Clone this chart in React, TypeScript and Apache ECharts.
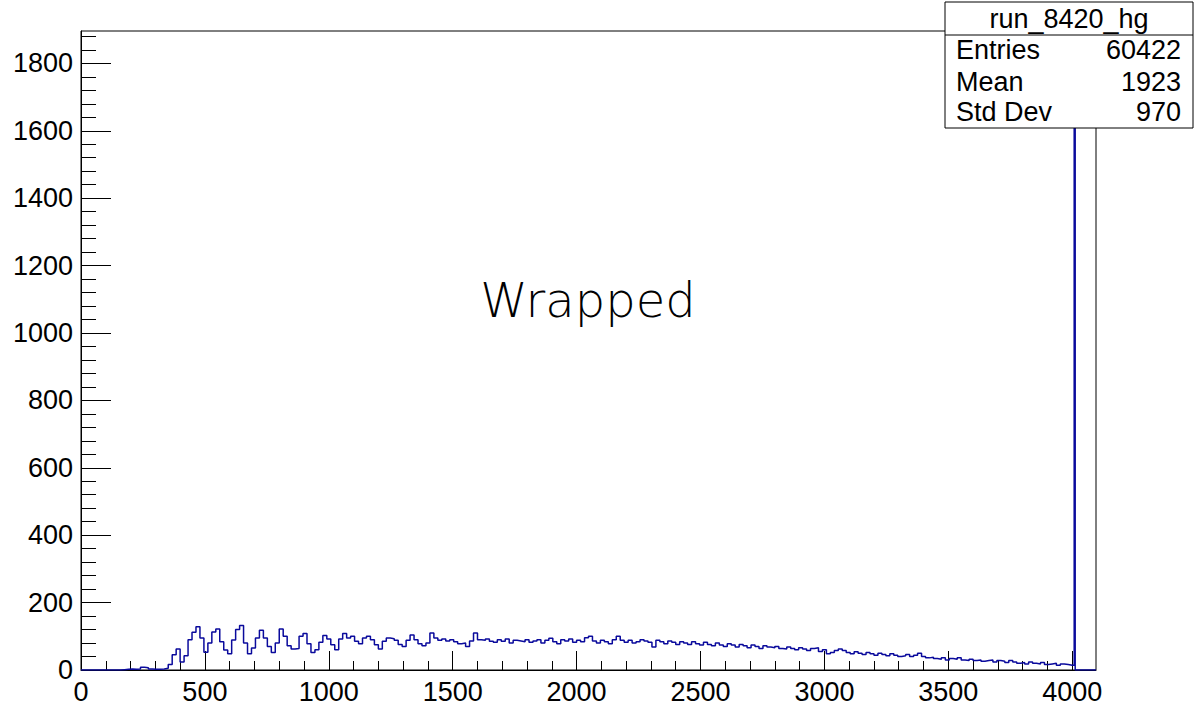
import React, { useEffect, useRef } from "react";
import * as echarts from "echarts";

// Histogram: counts per 4-channel bin, averaged over 16-channel groups (0..4000)
const binWidth = 16;
const counts = [
  0, 0, 0, 0, 0, 0, 0, 0, 0, 0,
  1, 2, 3, 2, 3, 8, 7, 3, 2, 2,
  3, 5, 16, 45, 62, 24, 42, 90, 112, 128,
  95, 53, 80, 113, 122, 84, 59, 48, 89, 120,
  132, 80, 48, 65, 95, 118, 95, 70, 52, 80,
  122, 100, 72, 62, 64, 100, 108, 78, 52, 60,
  82, 102, 92, 75, 60, 92, 108, 95, 100, 85,
  78, 95, 100, 90, 75, 62, 85, 95, 93, 88,
  76, 70, 88, 104, 90, 78, 72, 80, 110, 95,
  88, 92, 86, 90, 84, 78, 80, 70, 86, 110,
  90, 88, 92, 85, 82, 90, 85, 92, 80, 88,
  86, 84, 90, 82, 86, 90, 80, 88, 94, 84,
  78, 90, 86, 92, 82, 88, 84, 96, 100, 86,
  80, 88, 84, 78, 90, 100, 88, 82, 88, 80,
  84, 90, 86, 82, 68, 88, 84, 78, 86, 82,
  76, 84, 80, 76, 84, 78, 74, 82, 76, 72,
  80, 74, 70, 78, 74, 68, 76, 72, 66, 74,
  70, 64, 72, 68, 66, 70, 64, 62, 68, 64,
  60, 66, 62, 58, 64, 66, 55, 60, 48, 52,
  58, 62, 58, 52, 48, 54, 50, 46, 52, 48,
  44, 50, 46, 42, 48, 44, 40, 42, 46, 40,
  44, 50, 40, 36, 38, 34, 32, 36, 30, 34,
  32, 36, 30, 28, 32, 28, 30, 26, 28, 30,
  24, 28, 26, 22, 28, 24, 20, 22, 18, 24,
  20, 18, 22, 16, 18, 20, 14, 18, 16, 14,
];
// wrapped (overflow) bin near the end of the range
const tailEdges = [4000, 4008, 4012, 4096];
const tailCounts = [14, 1806, 0];

const xMin = 0;
const xMax = 4096;
const yMin = 0;
const yMax = 1896;
const xMajorTicks = [0, 500, 1000, 1500, 2000, 2500, 3000, 3500, 4000];
const yMajorTicks = [0, 200, 400, 600, 800, 1000, 1200, 1400, 1600, 1800];

const histTitle = "run_8420_hg";
const statNames = ["Entries", "Mean", "Std Dev"];
const statValues = ["60422", "1923", "970"];
const overlayText = "Wrapped";

function minorFrom(majors: number[], step: number, limit: number) {
  const out: number[] = [];
  for (let v = majors[0]; v <= limit; v += step) {
    if (!majors.includes(v)) out.push(v);
  }
  return out;
}

export default function App() {
  const ref = useRef<HTMLDivElement>(null);
  useEffect(() => {
    if (!ref.current) return;
    const chart = echarts.init(ref.current, undefined, { renderer: "svg" });

    const data: number[][] = [];
    counts.forEach((v, i) => {
      const lo = i * binWidth;
      data.push([lo, v], [lo + binWidth, v]);
    });
    tailCounts.forEach((v, i) => {
      data.push([tailEdges[i], v], [tailEdges[i + 1], v]);
    });

    const xMinor = minorFrom(xMajorTicks, 100, 4000);
    const yMinor = minorFrom(yMajorTicks, 40, 1880);
    const font = "'Liberation Sans', Arial, Helvetica, sans-serif";
    const fs = 27;

    const rowY = [50, 82, 112];
    const boxL = 945;
    const boxR = 1193;
    const plain = (v: number) => String(v);

    chart.setOption({
      animation: false,
      grid: {
        left: 81,
        top: 31,
        right: 98,
        bottom: 35,
        show: true,
        borderColor: "#000",
        borderWidth: 1,
        outerBoundsMode: "none",
      },
      xAxis: [
        {
          type: "value",
          min: xMin,
          max: xMax,
          axisLine: { show: true, lineStyle: { color: "#000", width: 1 } },
          axisTick: { show: true, inside: true, length: 19, customValues: xMajorTicks, lineStyle: { color: "#000" } },
          axisLabel: { show: true, customValues: xMajorTicks, formatter: plain, color: "#000", fontSize: fs, fontFamily: font, margin: 8 },
          splitLine: { show: false },
        },
        {
          type: "value",
          min: xMin,
          max: xMax,
          position: "bottom",
          axisLine: { show: false },
          axisTick: { show: true, inside: true, length: 9, customValues: xMinor, lineStyle: { color: "#000" } },
          axisLabel: { show: false },
          splitLine: { show: false },
        },
      ],
      yAxis: [
        {
          type: "value",
          min: yMin,
          max: yMax,
          axisLine: { show: true, lineStyle: { color: "#000", width: 1 } },
          axisTick: { show: true, inside: true, length: 30, customValues: yMajorTicks, lineStyle: { color: "#000" } },
          axisLabel: { show: true, customValues: yMajorTicks, formatter: plain, color: "#000", fontSize: fs, fontFamily: font, margin: 8 },
          splitLine: { show: false },
        },
        {
          type: "value",
          min: yMin,
          max: yMax,
          position: "left",
          axisLine: { show: false },
          axisTick: { show: true, inside: true, length: 15, customValues: yMinor, lineStyle: { color: "#000" } },
          axisLabel: { show: false },
          splitLine: { show: false },
        },
      ],
      series: [
        {
          type: "line",
          xAxisIndex: 0,
          yAxisIndex: 0,
          data,
          showSymbol: false,
          symbol: "none",
          clip: true,
          lineStyle: { color: "#0a0a9c", width: 1.5 },
          z: 3,
        },
      ],
      graphic: [
        {
          type: "text",
          x: 588,
          y: 300,
          z: 10,
          style: {
            text: overlayText,
            fontSize: 48,
            fontFamily: "'DejaVu Sans ExtraLight', 'DejaVu Sans', sans-serif",
            fontWeight: 200,
            fill: "#000",
            textAlign: "center",
            textVerticalAlign: "middle",
          },
        },
        {
          type: "rect",
          z: 20,
          shape: { x: boxL, y: 2, width: boxR - boxL, height: 126 },
          style: { fill: "#fff", stroke: "#000", lineWidth: 1 },
        },
        {
          type: "line",
          z: 21,
          shape: { x1: boxL, y1: 35, x2: boxR, y2: 35 },
          style: { stroke: "#000", lineWidth: 1 },
        },
        {
          type: "text",
          z: 22,
          x: (boxL + boxR) / 2,
          y: 19,
          style: { text: histTitle, fontSize: fs, fontFamily: font, fill: "#000", textAlign: "center", textVerticalAlign: "middle" },
        },
        ...statNames.map((n, i) => ({
          type: "text",
          z: 22,
          x: 956,
          y: rowY[i],
          style: { text: n, fontSize: fs, fontFamily: font, fill: "#000", textAlign: "left", textVerticalAlign: "middle" },
        })),
        ...statValues.map((v, i) => ({
          type: "text",
          z: 22,
          x: 1181,
          y: rowY[i],
          style: { text: v, fontSize: fs, fontFamily: font, fill: "#000", textAlign: "right", textVerticalAlign: "middle" },
        })),
      ],
    });
    return () => chart.dispose();
  }, []);
  return (
    <div
      ref={ref}
      style={{ position: "fixed", left: 0, top: 0, width: 1194, height: 705, background: "#fff" }}
    />
  );
}
